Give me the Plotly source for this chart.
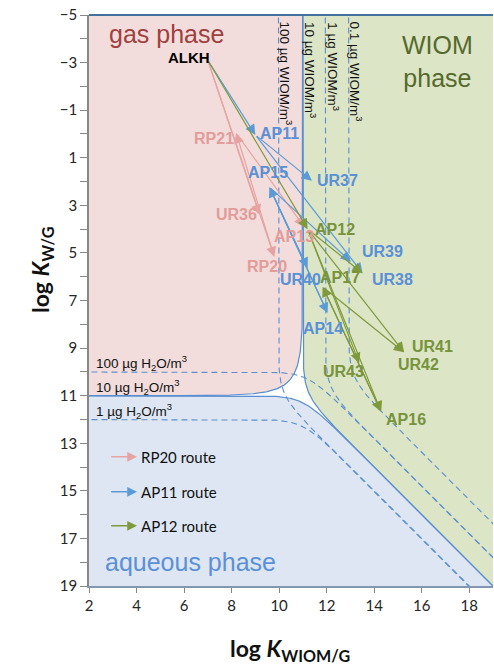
import numpy as np
import plotly.graph_objects as go

# ---------------- axes ----------------
x_tick_vals = [2, 4, 6, 8, 10, 12, 14, 16, 18]
y_tick_vals = [-5, -3, -1, 1, 3, 5, 7, 9, 11, 13, 15, 17, 19]
y_minor_vals = [-4, -2, 0, 2, 4, 6, 8, 10, 12, 14, 16, 18]

# ---------------- phase boundaries (10 ug/m3 water and WIOM) ----------------
ref_logk = 11.0
gas_softness = 2.0

h2o_line_names = ["100 µg H<sub>2</sub>O/m<sup>3</sup>", "10 µg H<sub>2</sub>O/m<sup>3</sup>",
                  "1 µg H<sub>2</sub>O/m<sup>3</sup>"]
h2o_line_flat = [10.0, 11.0, 12.0]
h2o_line_bend = [11.2, 11.0, 11.0]
h2o_line_dashed = [True, False, True]

wiom_line_names = ["100 µg WIOM/m<sup>3</sup>", "10 µg WIOM/m<sup>3</sup>",
                   "1 µg WIOM/m<sup>3</sup>", "0.1 µg WIOM/m<sup>3</sup>"]
wiom_line_flat = [9.97, 11.0, 11.94, 12.92]
wiom_line_bend = [11.0, 11.0, 10.75, 10.3]
wiom_line_dashed = [True, False, True, True]

# ---------------- species ----------------
node_names = ["ALKH", "RP21", "AP11", "AP15", "UR37", "UR36", "AP12", "AP13", "UR39",
              "RP20", "UR40", "AP17", "UR38", "AP14", "UR41", "UR42", "UR43", "AP16"]
node_x = [7.0, 8.19, 9.0, 9.59, 11.38, 9.17, 11.2, 11.06, 13.02,
          9.80, 11.2, 11.83, 13.51, 12.04, 15.26, 15.26, 13.37, 14.29]
node_y = [-3.1, -0.04, 0.04, 2.23, 1.97, 3.40, 4.0, 3.91, 5.37,
          5.17, 5.63, 6.42, 5.85, 7.53, 9.18, 9.18, 9.63, 11.67]
node_group = ["start", "RP20", "AP11", "AP11", "AP11", "RP20", "AP12", "RP20", "AP11",
              "RP20", "AP11", "AP12", "AP11", "AP11", "AP12", "AP12", "AP12", "AP12"]

arrow_from = ["ALKH", "ALKH", "RP20", "RP21",
              "ALKH", "AP11", "AP11", "AP15", "AP14", "AP15", "AP15",
              "ALKH", "AP12", "AP12", "AP12", "AP12", "AP17", "AP16", "AP17"]
arrow_to = ["UR36", "RP20", "RP21", "AP13",
            "AP11", "UR37", "UR38", "UR39", "AP15", "AP14", "UR40",
            "AP12", "UR38", "UR41", "UR43", "AP16", "UR41", "AP17", "AP16"]
arrow_route = ["RP20"] * 4 + ["AP11"] * 7 + ["AP12"] * 8

route_names = ["RP20", "AP11", "AP12"]

# ---------------- layout-only (label placement, styles) ----------------
label_x = [6.19, 7.28, 10.01, 9.55, 12.45, 8.21, 12.37, 10.64, 14.34,
           9.47, 10.90, 12.58, 14.76, 11.86, 16.44, 15.85, 12.70, 15.35]
label_y = [-3.2, 0.17, -0.04, 1.64, 1.97, 3.40, 4.03, 4.33, 4.96,
           5.59, 6.13, 6.05, 6.13, 8.19, 8.95, 9.71, 10.0, 12.02]

arrow_colors = {"RP20": "#e6a3a1", "AP11": "#5b9bd5", "AP12": "#7f9a3c"}
label_colors = {"start": "#000000", "RP20": "#e29c9a", "AP11": "#5a90d6", "AP12": "#77933c"}
line_color = "#5a8ed0"
gas_fill = "#f2dddc"
aq_fill = "#dde6f2"
wiom_fill = "#dce5c6"

idx = {n: i for i, n in enumerate(node_names)}

fig = go.Figure()

# ---------------- regions ----------------
xs = np.linspace(0, 21, 600)
ys = np.linspace(-7, 21, 800)
q = np.linspace(-12, 8, 800)
gas_x = ref_logk - gas_softness * np.log10(1 + 10 ** q)
gas_y = ref_logk - gas_softness * np.log10(1 + 10 ** (-q))
aq_y = ref_logk + np.log10(1 + 10 ** (xs - ref_logk))
wi_x = ref_logk + np.log10(1 + 10 ** (ys - ref_logk))

# gas region
gx = np.concatenate([[0, 0], gas_x[::-1], [ref_logk, 0]])
gy = np.concatenate([[-7, gas_y[-1]], gas_y[::-1], [-7, -7]])
fig.add_trace(go.Scatter(x=gx, y=gy, fill="toself", fillcolor=gas_fill, mode="none",
                         hoverinfo="skip", showlegend=False))
# aqueous region
ax_ = np.concatenate([xs, [21, 0]])
ay_ = np.concatenate([aq_y, [23, 23]])
fig.add_trace(go.Scatter(x=ax_, y=ay_, fill="toself", fillcolor=aq_fill, mode="none",
                         hoverinfo="skip", showlegend=False))
# WIOM region
wx = np.concatenate([wi_x, [23, 23]])
wy = np.concatenate([ys, [21, -7]])
fig.add_trace(go.Scatter(x=wx, y=wy, fill="toself", fillcolor=wiom_fill, mode="none",
                         hoverinfo="skip", showlegend=False))

# ---------------- 50% lines ----------------
fig.add_trace(go.Scatter(x=gas_x, y=gas_y, mode="lines", line=dict(color=line_color, width=1.2),
                         hoverinfo="skip", showlegend=False))
for flat, bend, dashed in zip(h2o_line_flat, h2o_line_bend, h2o_line_dashed):
    yy = flat + np.log10(1 + 10 ** (xs - bend))
    fig.add_trace(go.Scatter(x=xs, y=yy, mode="lines",
                             line=dict(color=line_color, width=1.1 if dashed else 1.2,
                                       dash="6px,4px" if dashed else "solid"),
                             hoverinfo="skip", showlegend=False))
for flat, bend, dashed in zip(wiom_line_flat, wiom_line_bend, wiom_line_dashed):
    xx = flat + np.log10(1 + 10 ** (ys - bend))
    fig.add_trace(go.Scatter(x=xx, y=ys, mode="lines",
                             line=dict(color=line_color, width=1.1 if dashed else 1.2,
                                       dash="6px,4px" if dashed else "solid"),
                             hoverinfo="skip", showlegend=False))

annotations = []

# ---------------- arrows ----------------
for f, t, r in zip(arrow_from, arrow_to, arrow_route):
    i, j = idx[f], idx[t]
    annotations.append(dict(x=node_x[j], y=node_y[j], ax=node_x[i], ay=node_y[i],
                            xref="x", yref="y", axref="x", ayref="y", text="",
                            showarrow=True, arrowhead=2, arrowsize=1.7, arrowwidth=1.2,
                            arrowcolor=arrow_colors[r], standoff=0))

# ---------------- species labels ----------------
for n, lx, ly, g in zip(node_names, label_x, label_y, node_group):
    annotations.append(dict(x=lx, y=ly, xref="x", yref="y", text="<b>%s</b>" % n,
                            showarrow=False, xanchor="center", yanchor="middle",
                            font=dict(family="Liberation Sans, Arial", size=16 if g != "start" else 15,
                                      color=label_colors[g])))

# ---------------- iso-line labels ----------------
for name, flat in zip(h2o_line_names, h2o_line_flat):
    annotations.append(dict(x=2.22, y=flat - 0.37, xref="x", yref="y", text=name, showarrow=False,
                            xanchor="left", yanchor="middle",
                            font=dict(family="Liberation Sans, Arial", size=13.5, color="#111")))
for name, flat in zip(wiom_line_names, wiom_line_flat):
    annotations.append(dict(x=flat + 0.33, y=-4.8, xref="x", yref="y", text=name, showarrow=False,
                            textangle=90, xanchor="center", yanchor="top",
                            font=dict(family="Liberation Sans, Arial", size=13.5, color="#111")))

# ---------------- phase labels ----------------
annotations += [
    dict(x=5.25, y=-4.2, xref="x", yref="y", text="gas phase", showarrow=False,
         font=dict(family="Liberation Sans, Arial", size=25, color="#a0403e")),
    dict(x=16.65, y=-3.05, xref="x", yref="y", text="WIOM<br>phase", showarrow=False,
         font=dict(family="Liberation Sans, Arial", size=25, color="#56692c")),
    dict(x=6.28, y=17.98, xref="x", yref="y", text="aqueous phase", showarrow=False,
         font=dict(family="Liberation Sans, Arial", size=25, color="#5b90d8")),
]

# ---------------- legend ----------------
legend_y = [13.57, 15.04, 16.47]
for r, ly in zip(route_names, legend_y):
    annotations.append(dict(x=4.02, y=ly, ax=2.87, ay=ly, xref="x", yref="y", axref="x", ayref="y",
                            text="", showarrow=True, arrowhead=2, arrowsize=1.3, arrowwidth=1.5,
                            arrowcolor=arrow_colors[r], standoff=0))
    annotations.append(dict(x=4.12, y=ly, xref="x", yref="y", text="%s route" % r, showarrow=False,
                            xanchor="left", yanchor="middle",
                            font=dict(family="Lato", size=15, color="#111")))

# ---------------- axis titles ----------------
annotations += [
    dict(x=0.497, y=-0.112, xref="paper", yref="paper", showarrow=False,
         text="<b>log <i>K</i><sub>WIOM/G</sub></b>", xanchor="center", yanchor="middle",
         font=dict(family="Lato", size=23, color="#111")),
    dict(x=-0.117, y=0.553, xref="paper", yref="paper", showarrow=False, textangle=-90,
         text="<b>log <i>K</i><sub>W/G</sub></b>", xanchor="center", yanchor="middle",
         font=dict(family="Lato", size=23, color="#111")),
]

fig.update_layout(
    width=494, height=666,
    margin=dict(l=89, r=1, t=15, b=80),
    paper_bgcolor="white", plot_bgcolor="white",
    annotations=annotations,
    shapes=[dict(type="line", xref="paper", yref="paper", x0=0, x1=1, y0=1, y1=1,
                 line=dict(color="#41719c", width=2))],
    xaxis=dict(range=[2, 19], tickvals=x_tick_vals, ticks="outside", ticklen=5, tickcolor="#888",
               showline=True, linecolor="#8497b0", linewidth=1.5, showgrid=False, zeroline=False,
               tickfont=dict(family="Lato", size=15, color="#262626")),
    yaxis=dict(range=[19, -5], tickvals=y_tick_vals, ticks="outside", ticklen=7, tickcolor="#888",
               showline=True, linecolor="#888", linewidth=1.5, showgrid=False, zeroline=False,
               tickfont=dict(family="Lato", size=15, color="#262626"),
               minor=dict(tickvals=y_minor_vals, ticks="outside", ticklen=7, tickcolor="#888")),
)

fig.write_html("out.html")
